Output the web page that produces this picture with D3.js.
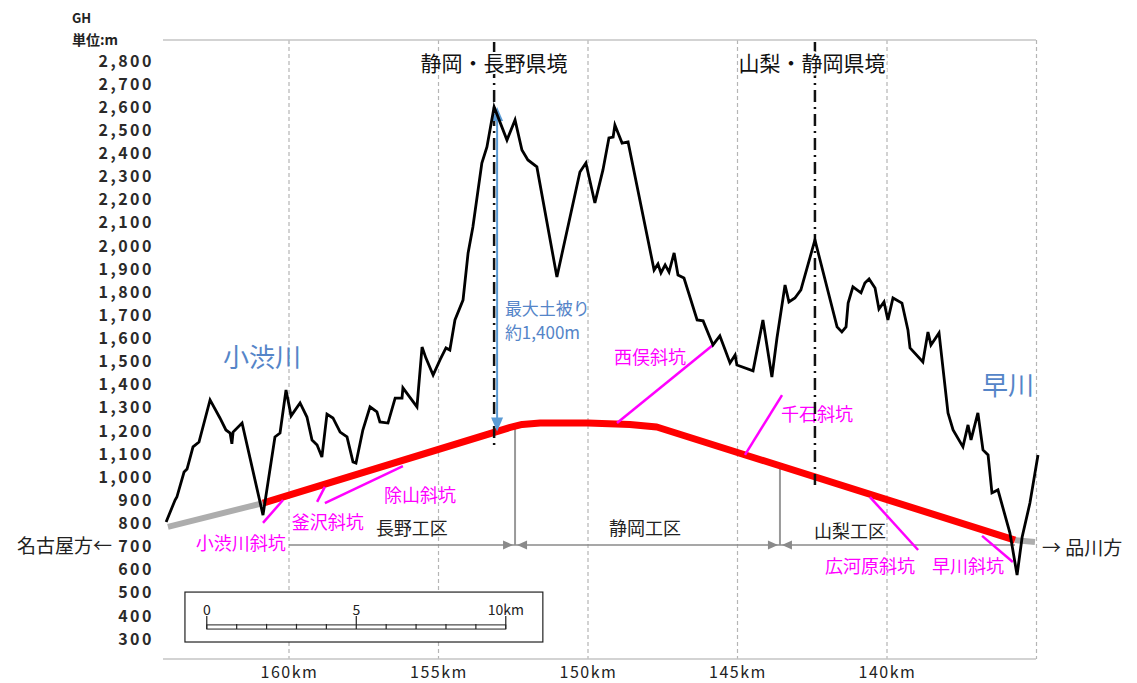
<!DOCTYPE html>
<html>
<head>
<meta charset="utf-8">
<script src="https://cdn.jsdelivr.net/npm/d3@7"></script>
<style>
  body { margin: 0; background: #fff; }
  svg text { font-family: "Noto Sans CJK JP", "Noto Sans", sans-serif; }
</style>
</head>
<body>
<svg width="1137" height="683"></svg>
<script>
// ground profile along the route: [km post, elevation m]
const profile = [
  [164.11,806],[163.81,901],[163.75,914],[163.51,1022],[163.41,1035],[163.21,1131],[163.01,1152],
  [162.64,1334],[162.31,1256],[162.11,1204],[161.97,1191],[161.91,1144],[161.87,1195],[161.57,1234],
  [160.87,836],[160.47,1174],[160.30,1191],[160.10,1377],[159.93,1265],[159.63,1321],[159.40,1260],
  [159.23,1161],[159.06,1139],[158.90,1087],[158.73,1273],[158.53,1256],[158.29,1195],[158.06,1174],
  [157.86,1066],[157.76,1061],[157.53,1204],[157.29,1304],[157.06,1282],[156.96,1239],[156.69,1234],
  [156.45,1342],[156.22,1342],[156.19,1386],[155.72,1304],[155.55,1563],[155.42,1515],[155.18,1442],
  [154.95,1507],[154.75,1559],[154.62,1550],[154.45,1680],[154.18,1766],[154.01,1970],[153.85,2082],
  [153.55,2359],[153.38,2428],[153.14,2601],[152.71,2458],[152.44,2545],[152.21,2415],[152.01,2372],
  [151.71,2342],[151.04,1866],[150.27,2320],[150.07,2359],[149.77,2186],[149.50,2329],[149.30,2467],
  [149.16,2471],[149.10,2523],[148.86,2445],[148.66,2450],[147.79,1896],[147.66,1922],[147.56,1883],
  [147.42,1918],[147.29,1887],[147.12,1970],[146.99,1874],[146.79,1861],[146.35,1680],[146.15,1676],
  [145.82,1572],[145.59,1611],[145.45,1563],[145.25,1494],[145.08,1528],[145.02,1485],[144.48,1460],
  [144.15,1680],[143.85,1433],[143.68,1602],[143.41,1831],[143.28,1758],[143.08,1775],[142.88,1810],
  [142.41,2026],[141.67,1650],[141.51,1628],[141.37,1650],[141.30,1753],[141.14,1823],[140.87,1797],
  [140.74,1840],[140.60,1857],[140.40,1818],[140.27,1727],[140.10,1758],[139.97,1680],[139.80,1775],
  [139.50,1753],[139.30,1637],[139.23,1559],[138.80,1498],[138.63,1628],[138.53,1572],[138.26,1624],
  [137.96,1278],[137.79,1204],[137.46,1131],[137.29,1226],[137.19,1161],[136.96,1278],[136.79,1118],
  [136.62,1096],[136.49,932],[136.29,945],[135.89,759],[135.65,577],[135.48,741],[135.22,888],[134.95,1096]
];

// tunnel (red) and approach sections (grey)
const tunnel = [[160.87,888],[152.6,1215],[152.2,1228],[151.6,1234],[150.0,1234],[148.6,1228],[147.7,1217],[135.72,728]];
const approachWest = [[164.05,785],[160.87,888]];
const approachEast = [[135.72,728],[135.05,720]];

// inclined shafts
const shaftNames = ["小渋川斜坑","釜沢斜坑","除山斜坑","西俣斜坑","千石斜坑","広河原斜坑","早川斜坑"];
const shaftLines = [
  [[160.87,802],[160.20,901]],
  [[159.06,893],[158.80,958]],
  [[158.80,888],[156.19,1048]],
  [[149.03,1234],[145.82,1572]],
  [[144.75,1096],[143.51,1355]],
  [[140.57,914],[138.96,685]],
  [[136.82,746],[135.79,633]]
];
const shaftLabelAt = [[161.61,720],[158.70,811],[155.62,927],[147.93,1524],[142.34,1278],[140.57,620],[137.29,620]];

// construction sections
const sectionNames = ["長野工区","静岡工区","山梨工区"];
const sectionStart = [160, 152.44, 143.58];
const sectionEnd = [152.44, 143.58, 135.72];
const sectionLabelAt = [[155.89,785],[148.09,785],[141.24,772]];
const sectionLineElev = 707;
const boundaryKm = [152.44, 143.58];
const boundaryTopElev = [1214, 1049];

// prefecture borders
const borderNames = ["静岡・長野県境","山梨・静岡県境"];
const borderKm = [153.14, 142.41];
const borderBottomElev = [1139, 966];
const borderLabelKm = [153.14, 142.51];
const borderLabelElev = 2796;

// rivers
const riverNames = ["小渋川","早川"];
const riverAt = [[160.90,1528],[135.95,1407]];

// maximum overburden
const coverKm = 153.04;
const coverTop = 2601, coverBottom = 1198;
const coverLines = ["最大土被り","約1,400m"];
const coverTextKm = 152.78;
const coverTextElev = [1732, 1628];

// axes
const yTicks = [300,400,500,600,700,800,900,1000,1100,1200,1300,1400,1500,1600,1700,1800,1900,2000,2100,2200,2300,2400,2500,2600,2700,2800];
const xTicks = [160,155,150,145,140];
const gridKm = [160,155,150,145,140,135];

// scale bar
const scaleStartKm = 162.75;
const scaleTicks = [0,1,2,3,4,5,6,7,8,9,10];
const scaleLabels = [[0,"0"],[5,"5"],[10,"10km"]];
const scaleBox = {fromKm: 163.48, toKm: 151.51, top: 503, bottom: 287};
const scaleBar = {top: 361, bottom: 343, tall: 400, label: 430};

const plotLeft = 163, plotRight = 1036, plotTop = 40, plotBottom = 659;

const svg = d3.select("svg");

const x = d3.scaleLinear().domain([160, 140]).range([289, 887]);
const y = d3.scaleLinear().domain([300, 2800]).range([639, 61]);

const line = d3.line().x(d => x(d[0])).y(d => y(d[1]));

// grid + frame
svg.append("g").selectAll("line").data(gridKm).enter().append("line")
  .attr("x1", d => x(d)).attr("x2", d => x(d))
  .attr("y1", plotTop).attr("y2", plotBottom)
  .attr("stroke", "#b5b5b5").attr("stroke-width", 1.2).attr("stroke-dasharray", "4,3");

svg.append("g").selectAll("line").data([plotTop, plotBottom]).enter().append("line")
  .attr("x1", plotLeft).attr("x2", plotRight)
  .attr("y1", d => d).attr("y2", d => d)
  .attr("stroke", "#c4c4c4").attr("stroke-width", 1.5);

// y axis
svg.append("g")
  .attr("transform", "translate(157,0)")
  .call(d3.axisLeft(y).tickValues(yTicks).tickSize(0).tickPadding(3).tickFormat(d3.format(",")))
  .call(g => g.select(".domain").remove())
  .selectAll("text")
  .attr("font-family", "Noto Sans CJK JP")
  .attr("font-size", 16).attr("font-weight", "bold")
  .attr("letter-spacing", "2.5px").attr("fill", "#2a2a2a");

// unit label
svg.append("text").attr("x", 72).attr("y", 23).attr("font-size", 13).attr("font-weight", "bold").attr("fill", "#222").text("GH");
svg.append("text").attr("x", 72).attr("y", 45).attr("font-size", 14).attr("font-weight", "bold").attr("fill", "#222").text("単位:m");

// x axis
svg.append("g")
  .attr("transform", `translate(0,${plotBottom})`)
  .call(d3.axisBottom(x).tickValues(xTicks).tickSize(0).tickPadding(8).tickFormat(d => d + "km"))
  .call(g => g.select(".domain").remove())
  .selectAll("text")
  .attr("font-family", "Noto Sans CJK JP")
  .attr("font-size", 16).attr("letter-spacing", "1.5px").attr("fill", "#222");

// scale bar
const sb = svg.append("g");
sb.append("rect")
  .attr("x", x(scaleBox.fromKm)).attr("y", y(scaleBox.top))
  .attr("width", x(scaleBox.toKm) - x(scaleBox.fromKm))
  .attr("height", y(scaleBox.bottom) - y(scaleBox.top))
  .attr("fill", "#fff").attr("stroke", "#222").attr("stroke-width", 1.2);
sb.append("rect")
  .attr("x", x(scaleStartKm)).attr("y", y(scaleBar.top))
  .attr("width", x(scaleStartKm - 10) - x(scaleStartKm))
  .attr("height", y(scaleBar.bottom) - y(scaleBar.top))
  .attr("fill", "#fff").attr("stroke", "#222").attr("stroke-width", 1);
sb.selectAll(".stick").data(scaleTicks).enter().append("line")
  .attr("x1", d => x(scaleStartKm - d)).attr("x2", d => x(scaleStartKm - d))
  .attr("y1", d => d % 5 === 0 ? y(scaleBar.tall) : y(scaleBar.top) - 1)
  .attr("y2", y(scaleBar.bottom))
  .attr("stroke", "#222").attr("stroke-width", 1.2);
sb.selectAll("text").data(scaleLabels).enter().append("text")
  .attr("x", d => x(scaleStartKm - d[0]))
  .attr("y", y(scaleBar.label))
  .attr("text-anchor", "middle").attr("dominant-baseline", "central")
  .attr("font-size", 14).attr("fill", "#222")
  .text(d => d[1]);

// section boundary lines + arrows
svg.append("g").selectAll("line").data(boundaryKm).enter().append("line")
  .attr("x1", d => x(d)).attr("x2", d => x(d))
  .attr("y1", (d, i) => y(boundaryTopElev[i])).attr("y2", y(sectionLineElev))
  .attr("stroke", "#999").attr("stroke-width", 2);

svg.append("line")
  .attr("x1", x(sectionStart[0])).attr("x2", x(sectionEnd[2]))
  .attr("y1", y(sectionLineElev)).attr("y2", y(sectionLineElev))
  .attr("stroke", "#8a8a8a").attr("stroke-width", 1.5);

const ay = y(sectionLineElev);
boundaryKm.forEach(k => {
  const bx = x(k);
  [-1, 1].forEach(s => {
    const tip = bx + s * 2;
    svg.append("path")
      .attr("d", `M${tip},${ay} L${tip + s * 10},${ay - 4.5} L${tip + s * 10},${ay + 4.5} Z`)
      .attr("fill", "#8a8a8a");
  });
});

svg.append("g").selectAll("text").data(sectionNames).enter().append("text")
  .attr("x", (d, i) => x(sectionLabelAt[i][0]))
  .attr("y", (d, i) => y(sectionLabelAt[i][1]))
  .attr("text-anchor", "middle").attr("dominant-baseline", "central")
  .attr("font-size", 18).attr("fill", "#222")
  .text(d => d);

// approach sections and tunnel
svg.append("g").selectAll("path").data([approachWest, approachEast]).enter().append("path")
  .attr("d", line).attr("fill", "none")
  .attr("stroke", "#adadad").attr("stroke-width", 6);

svg.append("path").datum(tunnel)
  .attr("d", line).attr("fill", "none")
  .attr("stroke", "#ff0000").attr("stroke-width", 7)
  .attr("stroke-linejoin", "round");

// shafts
svg.append("g").selectAll("path").data(shaftLines).enter().append("path")
  .attr("d", line).attr("fill", "none")
  .attr("stroke", "#ff00ff").attr("stroke-width", 2.5);

svg.append("g").selectAll("text").data(shaftNames).enter().append("text")
  .attr("x", (d, i) => x(shaftLabelAt[i][0]))
  .attr("y", (d, i) => y(shaftLabelAt[i][1]))
  .attr("text-anchor", "middle").attr("dominant-baseline", "central")
  .attr("font-size", 18).attr("fill", "#f0f")
  .text(d => d);

// prefecture borders
svg.append("g").selectAll("line").data(borderKm).enter().append("line")
  .attr("x1", d => x(d)).attr("x2", d => x(d))
  .attr("y1", plotTop + 2).attr("y2", (d, i) => y(borderBottomElev[i]))
  .attr("stroke", "#111").attr("stroke-width", 2.5)
  .attr("stroke-dasharray", "12,5,2,5");

svg.append("g").selectAll("text").data(borderNames).enter().append("text")
  .attr("x", (d, i) => x(borderLabelKm[i]))
  .attr("y", y(borderLabelElev))
  .attr("text-anchor", "middle").attr("dominant-baseline", "central")
  .attr("font-size", 21).attr("fill", "#111")
  .attr("stroke", "#fff").attr("stroke-width", 4).attr("paint-order", "stroke")
  .text(d => d);

// maximum overburden arrow
const cx = x(coverKm);
svg.append("line")
  .attr("x1", cx).attr("x2", cx)
  .attr("y1", y(coverTop) + 12).attr("y2", y(coverBottom) - 12)
  .attr("stroke", "#5b9bd5").attr("stroke-width", 2);
svg.append("path")
  .attr("d", `M${cx},${y(coverTop)} L${cx - 6},${y(coverTop) + 14} L${cx + 6},${y(coverTop) + 14} Z`)
  .attr("fill", "#5b9bd5");
svg.append("path")
  .attr("d", `M${cx},${y(coverBottom)} L${cx - 6},${y(coverBottom) - 14} L${cx + 6},${y(coverBottom) - 14} Z`)
  .attr("fill", "#5b9bd5");
svg.append("g").selectAll("text").data(coverLines).enter().append("text")
  .attr("x", x(coverTextKm))
  .attr("y", (d, i) => y(coverTextElev[i]))
  .attr("dominant-baseline", "central")
  .attr("font-size", 17).attr("fill", "#5585c8")
  .text(d => d);

// ground profile
svg.append("path").datum(profile)
  .attr("d", line).attr("fill", "none")
  .attr("stroke", "#000").attr("stroke-width", 2.8)
  .attr("stroke-linejoin", "miter");

// rivers
svg.append("g").selectAll("text").data(riverNames).enter().append("text")
  .attr("x", (d, i) => x(riverAt[i][0]))
  .attr("y", (d, i) => y(riverAt[i][1]))
  .attr("text-anchor", "middle").attr("dominant-baseline", "central")
  .attr("font-size", 26).attr("fill", "#5585c8")
  .text(d => d);

// direction labels
svg.append("text").attr("x", 112).attr("y", y(sectionLineElev))
  .attr("text-anchor", "end").attr("dominant-baseline", "central")
  .attr("font-size", 19).attr("fill", "#222").text("名古屋方←");
svg.append("text").attr("x", 1042).attr("y", y(sectionLineElev) + 2)
  .attr("dominant-baseline", "central")
  .attr("font-size", 19).attr("fill", "#222").text("→ 品川方");
</script>
</body>
</html>
